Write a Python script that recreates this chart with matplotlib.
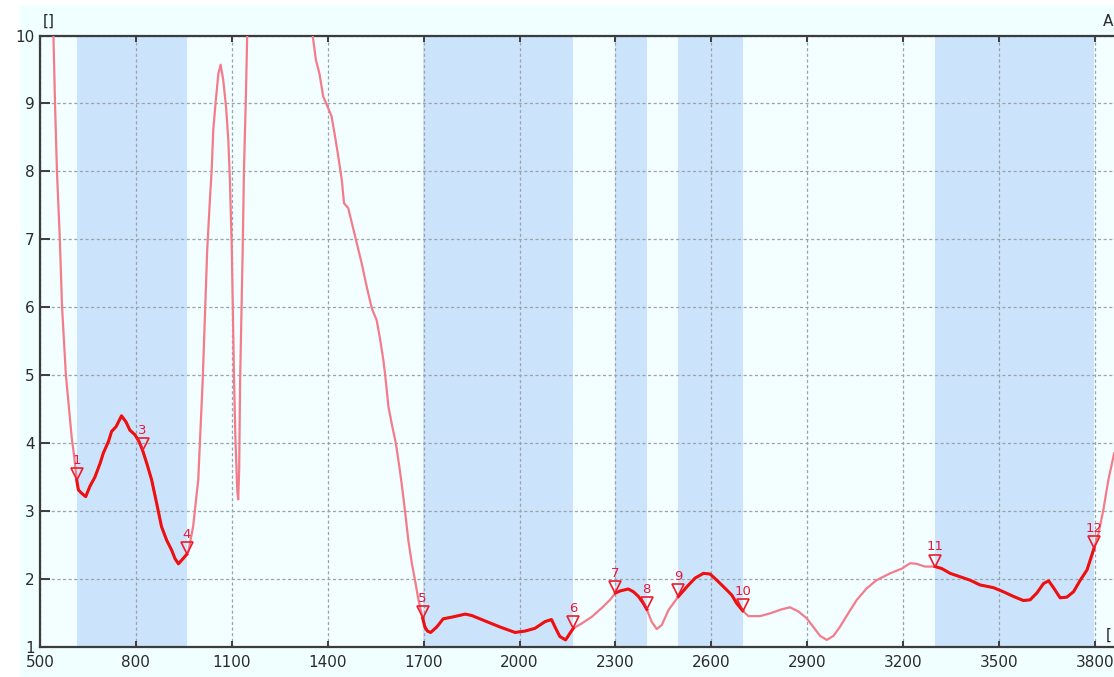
import numpy as np
import matplotlib
matplotlib.use('Agg')
import matplotlib.pyplot as plt
import matplotlib.transforms as mtransforms
from matplotlib.patches import Rectangle

# spectrum (wavenumber, value)
wn = [541, 547, 553, 562, 569, 581, 599, 607, 615, 620, 630, 643, 656, 672, 688, 698,
      714, 724, 738, 755, 769, 781, 797, 810, 821, 834, 849, 865, 880, 896, 912, 922,
      933, 948, 959, 964, 979, 995, 1009, 1016, 1023, 1032, 1037, 1042, 1050, 1058,
      1065, 1073, 1082, 1089, 1094, 1097, 1100, 1107, 1111, 1117, 1120, 1123, 1126,
      1134, 1138, 1144, 1148, 1152, 1346, 1353, 1363, 1374, 1386, 1397, 1412, 1423,
      1433, 1444, 1451, 1464, 1478, 1491, 1506, 1522, 1538, 1553, 1563, 1574, 1579,
      1590, 1602, 1613, 1624, 1631, 1642, 1652, 1663, 1673, 1683, 1697, 1704, 1712,
      1722, 1741, 1761, 1793, 1830, 1850, 1897, 1939, 1986, 2017, 2048, 2080, 2100,
      2111, 2126, 2144, 2158, 2168, 2194, 2226, 2257, 2283, 2300, 2314, 2340, 2356,
      2372, 2387, 2398, 2413, 2429, 2445, 2466, 2497, 2523, 2549, 2575, 2596, 2617,
      2643, 2664, 2679, 2698, 2716, 2752, 2783, 2820, 2846, 2872, 2898, 2919, 2940,
      2961, 2982, 3002, 3028, 3055, 3086, 3117, 3159, 3196, 3222, 3242, 3268, 3300,
      3321, 3347, 3378, 3409, 3440, 3482, 3513, 3545, 3576, 3597, 3618, 3639, 3655,
      3670, 3691, 3712, 3733, 3754, 3775, 3797, 3811, 3826, 3842, 3860]
val = [10.2, 9.0, 8.0, 7.0, 6.0, 5.0, 4.09, 3.80, 3.45, 3.31, 3.26, 3.21, 3.36, 3.50, 3.70, 3.85,
       4.02, 4.17, 4.24, 4.40, 4.31, 4.19, 4.12, 4.02, 3.89, 3.70, 3.46, 3.11, 2.77, 2.57, 2.42, 2.30,
       2.22, 2.30, 2.36, 2.40, 2.77, 3.46, 4.93, 5.90, 6.84, 7.63, 8.02, 8.61, 9.05, 9.44,
       9.57, 9.35, 8.95, 8.46, 7.87, 7.33, 6.84, 4.93, 4.10, 3.30, 3.17, 3.60, 4.93,
       6.84, 8.02, 9.10, 9.98, 10.6, 10.6, 10.0, 9.64, 9.44, 9.10, 8.98, 8.81, 8.51,
       8.22, 7.87, 7.53, 7.46, 7.19, 6.94, 6.65, 6.30, 5.98, 5.81, 5.55, 5.22, 5.03,
       4.53, 4.24, 4.00, 3.65, 3.41, 2.99, 2.57, 2.23, 1.98, 1.71, 1.42, 1.29, 1.23,
       1.21, 1.29, 1.41, 1.44, 1.48, 1.46, 1.37, 1.29, 1.21, 1.23, 1.27, 1.37, 1.40,
       1.29, 1.15, 1.10, 1.20, 1.27, 1.34, 1.44, 1.57, 1.69, 1.79, 1.82, 1.85, 1.81,
       1.74, 1.64, 1.55, 1.37, 1.26, 1.32, 1.54, 1.74, 1.88, 2.01, 2.08, 2.07, 1.98,
       1.86, 1.76, 1.64, 1.53, 1.45, 1.45, 1.49, 1.55, 1.58, 1.52, 1.42, 1.29, 1.16,
       1.10, 1.16, 1.29, 1.49, 1.69, 1.86, 1.98, 2.08, 2.15, 2.23, 2.22, 2.18, 2.18,
       2.15, 2.08, 2.03, 1.98, 1.91, 1.87, 1.81, 1.74, 1.68, 1.69, 1.79, 1.93, 1.97,
       1.87, 1.72, 1.73, 1.81, 1.98, 2.13, 2.45, 2.67, 3.01, 3.46, 3.85]

# markers (number, position)
marker_num = ['1', '3', '4', '5', '6', '7', '8', '9', '10', '11', '12']
marker_x = [615, 821, 959, 1697, 2168, 2300, 2398, 2497, 2698, 3300, 3797]

# integration regions, from marker to marker
bands = [('1', '4'), ('5', '6'), ('7', '8'), ('9', '10'), ('11', '12')]

xticks = list(range(500, 3801, 300))
yticks = list(range(1, 11))

wn = np.array(wn, dtype=float)
val = np.array(val, dtype=float)

W, H = 1114, 677
fig = plt.figure(figsize=(W / 100, H / 100), dpi=100, facecolor='white')
fig.patches.append(Rectangle((20 / W, 0), 1, (H - 5) / H, transform=fig.transFigure,
                             facecolor='#F0FFFF', edgecolor='none', zorder=-10))
ax = fig.add_axes([40 / W, (H - 646.7) / H, (W - 40) / W, (646.7 - 35.5) / H])
ax.set_facecolor('#F2FEFF')

px_per_unit = (1095 - 40.3) / 3300.0
ax.set_xlim(500, 500 + (W - 40.3) / px_per_unit)
ax.set_ylim(1, 10)

pos = dict(zip(marker_num, marker_x))
for a, b in bands:
    ax.axvspan(pos[a], pos[b], color='#CCE4FB', lw=0, zorder=1)

# thin full trace
ax.plot(wn, val, color='#F47C8A', lw=1.6, zorder=3)
# thick trace inside the regions
for a, b in bands:
    m = (wn >= pos[a]) & (wn <= pos[b])
    ax.plot(wn[m], val[m], color='#EE1010', lw=2.2, zorder=4, solid_joinstyle='round')

# triangle markers with tip on the curve
my = np.interp(marker_x, wn, val)
tri = mtransforms.offset_copy(ax.transData, fig=fig, x=0, y=4.3, units='points')
ax.plot(marker_x, my, ls='none', marker='v', ms=8.6, mfc='none', mec='#F01A2A',
        mew=1.2, transform=tri, zorder=5, clip_on=False)
for n, x, y in zip(marker_num, marker_x, my):
    ax.annotate(n, (x, y), xytext=(0, 9.5), textcoords='offset points', ha='center',
                va='bottom', fontsize=9.5, color='#E8183C', zorder=6)

ax.set_xticks(xticks)
ax.set_yticks(yticks)
ax.grid(True, color='#9AA3AD', lw=0.9, linestyle=(0, (2.5, 2)))
ax.tick_params(axis='x', direction='in', top=True, length=4.5, width=1.4,
               color='#3C3C3C', labelsize=11, labelcolor='#2B2B2B', pad=6)
ax.tick_params(axis='y', direction='in', length=7, width=1.4,
               color='#3C3C3C', labelsize=11, labelcolor='#2B2B2B', pad=4)
for s in ['left', 'top', 'bottom']:
    ax.spines[s].set_color('#3C3C3C')
    ax.spines[s].set_linewidth(1.6)
ax.spines['right'].set_visible(False)

fig.text(43 / W, (H - 21) / H, '[]', fontsize=11, color='#2B2B2B', ha='left', va='center')
fig.text(1113 / W, (H - 21) / H, 'A', fontsize=11, color='#2B2B2B', ha='right', va='center')
fig.text(1112 / W, (H - 635) / H, '[', fontsize=11, color='#2B2B2B', ha='right', va='center')

fig.savefig('out.png', dpi=100, facecolor=fig.get_facecolor())
